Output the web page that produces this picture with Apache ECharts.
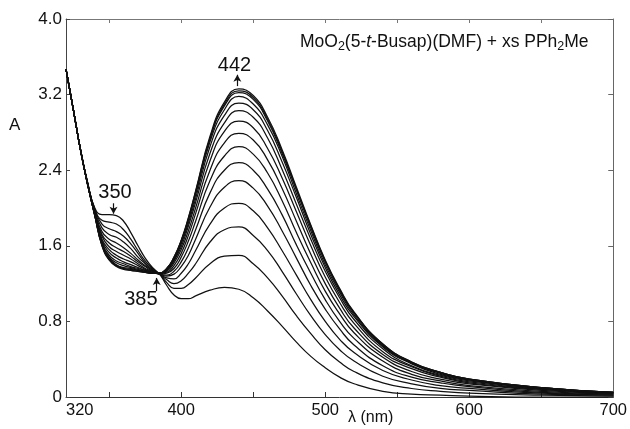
<!DOCTYPE html>
<html>
<head>
<meta charset="utf-8">
<script src="https://cdn.jsdelivr.net/npm/echarts@6/dist/echarts.min.js"></script>
<style>html,body{margin:0;padding:0;background:#fff;}#c{width:630px;height:429px;}</style>
</head>
<body>
<div id="c"></div>
<script>
// wavelengths (nm)
var wavelengths = [320,325,330,335,340,345,350,355,360,365,370,375,380,385,390,395,400,405,410,420,430,440,450,460,470,480,490,500,510,520,540,560,580,600,650,700];
// absorbance spectra, first (t=0) to last
var s0  = [3.47,3.05,2.62,2.27,2.00,1.93,1.93,1.92,1.86,1.74,1.60,1.47,1.37,1.30,1.18,1.08,1.04,1.04,1.07,1.13,1.16,1.14,1.05,0.91,0.75,0.58,0.43,0.31,0.21,0.14,0.06,0.03,0.02,0.01,0.00,0.00];
var s1  = [3.47,3.05,2.62,2.27,1.99,1.87,1.85,1.83,1.77,1.67,1.55,1.44,1.36,1.30,1.21,1.15,1.15,1.19,1.26,1.41,1.49,1.50,1.41,1.26,1.07,0.86,0.67,0.50,0.37,0.27,0.15,0.09,0.06,0.04,0.02,0.01];
var s2  = [3.47,3.05,2.62,2.26,1.98,1.83,1.78,1.75,1.70,1.62,1.52,1.42,1.35,1.30,1.24,1.20,1.23,1.31,1.41,1.64,1.77,1.80,1.71,1.55,1.33,1.09,0.86,0.66,0.50,0.38,0.22,0.14,0.09,0.07,0.03,0.02];
var s3  = [3.47,3.05,2.62,2.26,1.97,1.79,1.72,1.69,1.64,1.57,1.48,1.41,1.34,1.30,1.26,1.25,1.31,1.41,1.55,1.83,2.00,2.05,1.97,1.79,1.55,1.29,1.03,0.80,0.61,0.47,0.28,0.18,0.12,0.09,0.04,0.02];
var s4  = [3.47,3.05,2.62,2.26,1.96,1.75,1.67,1.63,1.58,1.52,1.45,1.39,1.34,1.30,1.28,1.30,1.38,1.50,1.67,2.01,2.22,2.29,2.21,2.02,1.76,1.47,1.18,0.93,0.72,0.55,0.33,0.21,0.15,0.11,0.05,0.03];
var s5  = [3.47,3.05,2.62,2.26,1.95,1.72,1.63,1.58,1.54,1.49,1.43,1.38,1.33,1.30,1.29,1.33,1.43,1.58,1.77,2.16,2.40,2.48,2.40,2.20,1.93,1.61,1.31,1.03,0.80,0.62,0.38,0.24,0.17,0.12,0.06,0.03];
var s6  = [3.47,3.05,2.62,2.26,1.94,1.70,1.59,1.54,1.50,1.46,1.41,1.36,1.33,1.30,1.31,1.36,1.48,1.65,1.86,2.29,2.55,2.65,2.57,2.37,2.08,1.74,1.42,1.12,0.88,0.68,0.42,0.27,0.19,0.14,0.07,0.04];
var s7  = [3.47,3.05,2.62,2.25,1.94,1.67,1.56,1.50,1.46,1.43,1.39,1.35,1.32,1.31,1.32,1.39,1.52,1.71,1.94,2.40,2.69,2.79,2.72,2.51,2.21,1.86,1.51,1.20,0.94,0.73,0.45,0.30,0.21,0.15,0.08,0.04];
var s8  = [3.47,3.05,2.62,2.25,1.93,1.65,1.53,1.47,1.43,1.40,1.37,1.34,1.32,1.31,1.33,1.42,1.56,1.76,2.00,2.50,2.81,2.92,2.85,2.63,2.32,1.96,1.60,1.27,1.00,0.78,0.48,0.32,0.22,0.16,0.08,0.04];
var s9  = [3.47,3.05,2.62,2.25,1.93,1.64,1.50,1.44,1.41,1.38,1.36,1.34,1.32,1.31,1.34,1.44,1.59,1.81,2.06,2.58,2.90,3.03,2.96,2.74,2.41,2.04,1.67,1.33,1.05,0.82,0.51,0.33,0.23,0.17,0.09,0.04];
var s10 = [3.47,3.05,2.62,2.25,1.93,1.62,1.48,1.42,1.39,1.37,1.35,1.33,1.31,1.31,1.35,1.45,1.62,1.84,2.10,2.65,2.98,3.11,3.04,2.82,2.49,2.11,1.72,1.37,1.08,0.85,0.53,0.35,0.24,0.18,0.09,0.05];
var s11 = [3.47,3.05,2.62,2.25,1.92,1.61,1.47,1.40,1.37,1.36,1.34,1.33,1.31,1.31,1.35,1.46,1.64,1.87,2.14,2.70,3.04,3.18,3.10,2.88,2.55,2.15,1.76,1.40,1.11,0.87,0.54,0.36,0.25,0.18,0.10,0.05];
var s12 = [3.47,3.05,2.62,2.25,1.92,1.61,1.46,1.39,1.36,1.35,1.34,1.32,1.31,1.31,1.36,1.47,1.65,1.88,2.16,2.73,3.08,3.22,3.15,2.92,2.58,2.19,1.79,1.43,1.13,0.89,0.55,0.36,0.26,0.19,0.10,0.05];
var s13 = [3.47,3.05,2.62,2.25,1.92,1.60,1.45,1.39,1.36,1.34,1.33,1.32,1.31,1.31,1.36,1.48,1.65,1.89,2.17,2.74,3.10,3.24,3.17,2.94,2.60,2.20,1.81,1.44,1.14,0.89,0.56,0.37,0.26,0.19,0.10,0.05];
var s14 = [3.47,3.05,2.62,2.25,1.92,1.60,1.45,1.38,1.35,1.34,1.33,1.32,1.31,1.31,1.36,1.48,1.66,1.90,2.18,2.76,3.12,3.26,3.19,2.96,2.62,2.22,1.82,1.45,1.15,0.90,0.56,0.37,0.26,0.19,0.10,0.05];
var spectra = [s0,s1,s2,s3,s4,s5,s6,s7,s8,s9,s10,s11,s12,s13,s14];

// axis ticks / labels
var xLabelValues = [320,400,500,600,700];
var xTickValues = [350,400,450,500,550,600,650];
var yMin = 0, yMax = 4.0, yStep = 0.8;

// annotation labels (wavelength marks)
var annotLabels = ['442','350','385'];

var chart = echarts.init(document.getElementById('c'), null, {renderer:'canvas'});
var FONT = 'Liberation Sans, Arial, sans-serif';
var INK = '#111';

var series = spectra.map(function(arr, i){
  return {
    type:'line', data: wavelengths.map(function(w, j){ return [w, arr[j]]; }),
    showSymbol:false, smooth:0.5,
    lineStyle:{color:INK, width:1.25}, silent:true, animation:false, z:2
  };
});

// annotations: text + arrows, in data coordinates
series.push({
  type:'scatter', data:[], silent:true, animation:false,
  markPoint:{
    symbol:'circle', symbolSize:1, itemStyle:{color:'rgba(0,0,0,0)'},
    label:{show:true, position:'inside', color:INK, fontSize:20, fontFamily:FONT},
    data:[
      {coord:[437, 3.51], value:annotLabels[0], label:{formatter:annotLabels[0]}},
      {coord:[354, 2.16], value:annotLabels[1], label:{formatter:annotLabels[1]}},
      {coord:[372, 1.03], value:annotLabels[2], label:{formatter:annotLabels[2]}}
    ]
  },
  markLine:{
    silent:true, symbol:['none','arrow'], symbolSize:[6,7],
    lineStyle:{color:INK, width:1.2, type:'solid'}, label:{show:false},
    data:[
      [{coord:[439,3.29]},{coord:[439,3.41]}],
      [{coord:[353,2.05]},{coord:[353,1.94]}],
      [{coord:[383,1.12]},{coord:[383,1.26]}]
    ]
  }
});

var option = {
  backgroundColor:'#fff',
  animation:false,
  grid:{left:66, right:12, top:19, bottom:32, containLabel:false},
  xAxis:[
    {type:'value', min:320, max:700, position:'bottom',
     axisLine:{show:true, onZero:false, lineStyle:{color:'#333', width:1}},
     axisTick:{show:true, inside:true, length:5, customValues:xTickValues, lineStyle:{color:'#333'}},
     axisLabel:{show:true, customValues:xLabelValues, color:INK, fontSize:16.5, fontFamily:FONT, margin:5, alignMinLabel:'left', alignMaxLabel:'center'},
     splitLine:{show:false}},
    {type:'value', min:320, max:700, position:'top',
     axisLine:{show:true, onZero:false, lineStyle:{color:'#777', width:1}},
     axisTick:{show:true, inside:true, length:4, customValues:xTickValues, lineStyle:{color:'#777'}},
     axisLabel:{show:false}, splitLine:{show:false}}
  ],
  yAxis:[
    {type:'value', min:yMin, max:yMax, interval:yStep, position:'left',
     axisLine:{show:true, onZero:false, lineStyle:{color:'#444', width:1}},
     axisTick:{show:true, inside:true, length:4, lineStyle:{color:'#444'}},
     axisLabel:{color:INK, fontSize:17, fontFamily:FONT, margin:4,
       formatter:function(v){ return v === 0 ? '0' : v.toFixed(1); }},
     splitLine:{show:false}},
    {type:'value', min:yMin, max:yMax, interval:yStep, position:'right',
     axisLine:{show:true, onZero:false, lineStyle:{color:'#666', width:1}},
     axisTick:{show:true, inside:true, length:5, lineStyle:{color:'#666'}},
     axisLabel:{show:false}, splitLine:{show:false}}
  ],
  graphic:[
    {type:'text', left:9, top:117, style:{text:'A', fontSize:17, fontFamily:FONT, fill:INK}},
    {type:'text', left:348, top:410, style:{text:'λ (nm)', fontSize:16, fontFamily:FONT, fill:INK}},
    {type:'text', left:300, top:33, style:{
      text:'MoO{s|2}(5-{i|t}-Busap)(DMF) + xs PPh{s|2}Me',
      fontSize:17.5, fontFamily:FONT, fill:INK,
      rich:{
        s:{fontSize:12.5, fontFamily:FONT, fill:INK, padding:[9,0,0,0]},
        i:{fontSize:17.5, fontStyle:'italic', fontFamily:FONT, fill:INK}
      }
    }}
  ],
  series: series
};
chart.setOption(option);
</script>
</body>
</html>
